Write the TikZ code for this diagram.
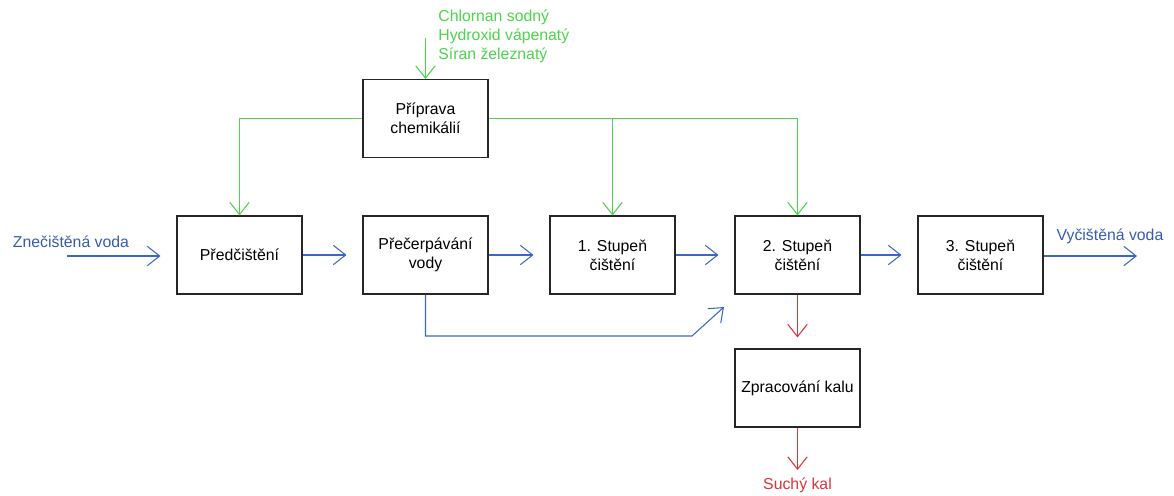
\documentclass[tikz,border=0pt]{standalone}
\usepackage{fontspec}
\setmainfont{Liberation Sans}
\usepackage{tikz}
\usetikzlibrary{arrows.meta}
\definecolor{chemgreen}{RGB}{76,212,76}
\definecolor{waterblue}{RGB}{58,102,196}
\definecolor{sludgered}{RGB}{216,52,60}

\begin{document}
\begin{tikzpicture}[x=0.02cm,y=-0.02cm,
  font=\fontsize{9}{11}\selectfont,
  box/.style={draw=black!85, line width=0.6pt, minimum width=2.5cm, minimum height=1.56cm, align=center, inner sep=2pt},
  flow/.style={line width=0.6pt, -{Straight Barb[length=7pt,width=11pt]}},
  chem/.style={flow, chemgreen},
  water/.style={flow, waterblue, shorten >=0.32cm},
  sludge/.style={flow, sludgered}]
       \useasboundingbox (0,0) rectangle (1174,495);
       % boxes
       \node[box] (prep) at (425.5, 118.5) {Příprava\\chemikálií};
       \node[box] (pre) at (239.5, 255) {Předčištění};
       \node[box] (pump) at (425.5, 255) {Přečerpávání\\vody};
       \node[box] (st1) at (612.5, 255) {1. Stupeň\\čištění};
       \node[box] (st2) at (797.5, 255) {2. Stupeň\\čištění};
       \node[box] (st3) at (980.5, 255) {3. Stupeň\\čištění};
       \node[box] (kal) at (797.5, 388) {Zpracování kalu};

       % labels
       \node[chemgreen, anchor=north west, align=left, inner sep=0pt] (chemtxt) at (438, 9) {Chlornan sodný\\Hydroxid vápenatý\\Síran železnatý};
       \node[waterblue!90!black] (intxt) at (71, 242) {Znečištěná voda};
       \node[waterblue!90!black] (outtxt) at (1110, 236) {Vyčištěná voda};
       \node[sludgered] (drytxt) at (797.5, 485) {Suchý kal};

       \coordinate (chemin) at (425.5, 38);
       \coordinate (win) at (67, 256);
       \coordinate (wout) at (1153, 256);
       \coordinate (byp) at (692, 336);
       \coordinate (bypend) at (724, 307);
       \coordinate (dry) at (797.5, 470);

       % chemicals
       \draw[chem] (chemin) -- (prep.north);
       \draw[chem] (prep.west) -| (pre.north);
       \draw[chem] (prep.east) -| (st2.north);
       \draw[chem] (prep.east -| st1.north) -- (st1.north);

       % water
       \draw[water] (win) -- (win -| pre.west);
       \draw[water] (pre.east) -- (pump.west);
       \draw[water] (pump.east) -- (st1.west);
       \draw[water] (st1.east) -- (st2.west);
       \draw[water] (st2.east) -- (st3.west);
       \draw[water] (st3.east |- wout) -- (wout);
       \draw[water, shorten >=0pt] (pump.south) -- (pump.south |- byp) -- (byp) -- (bypend);

       % sludge
       \draw[sludge, shorten >=0.22cm] (st2.south) -- (kal.north);
       \draw[sludge] (kal.south) -- (dry);
\end{tikzpicture}
\end{document}
